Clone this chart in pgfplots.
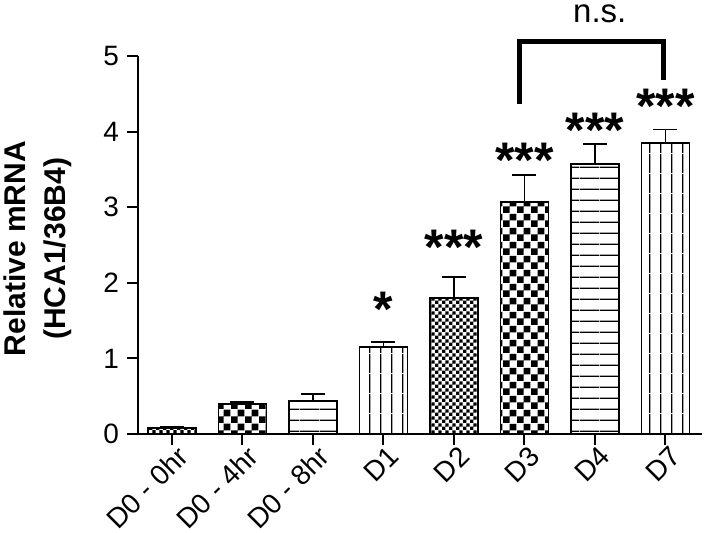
\documentclass[border=0pt]{standalone}
\usepackage{pgfplots}
\pgfplotsset{compat=1.18}
\usepackage{fontspec}
\setmainfont{Liberation Sans}
\usetikzlibrary{patterns}

\pgfdeclarepatternformonly{checkBig}{\pgfpointorigin}{\pgfpoint{6.8pt}{6.8pt}}{\pgfpoint{6.8pt}{6.8pt}}{%
  \pgfpathrectangle{\pgfpointorigin}{\pgfpoint{3.4pt}{3.4pt}}%
  \pgfpathrectangle{\pgfpoint{3.4pt}{3.4pt}}{\pgfpoint{3.4pt}{3.4pt}}%
  \pgfusepath{fill}}
\pgfdeclarepatternformonly{checkFine}{\pgfpointorigin}{\pgfpoint{3.4pt}{3.4pt}}{\pgfpoint{3.4pt}{3.4pt}}{%
  \pgfpathrectangle{\pgfpointorigin}{\pgfpoint{1.7pt}{1.7pt}}%
  \pgfpathrectangle{\pgfpoint{1.7pt}{1.7pt}}{\pgfpoint{1.7pt}{1.7pt}}%
  \pgfusepath{fill}}
\pgfdeclarepatternformonly{hlinesW}{\pgfpointorigin}{\pgfpoint{10pt}{5.6pt}}{\pgfpoint{10pt}{5.6pt}}{%
  \pgfpathrectangle{\pgfpointorigin}{\pgfpoint{10pt}{0.75pt}}%
  \pgfusepath{fill}}
\pgfdeclarepatternformonly{vlinesW}{\pgfpointorigin}{\pgfpoint{5.6pt}{10pt}}{\pgfpoint{5.6pt}{10pt}}{%
  \pgfpathrectangle{\pgfpointorigin}{\pgfpoint{0.75pt}{10pt}}%
  \pgfusepath{fill}}

\begin{document}
\begin{tikzpicture}
\path[use as bounding box] (-69pt,-49pt) rectangle (283.5pt,217pt);
\begin{axis}[
  at={(0,0)}, anchor=south west,
  scale only axis,
  width=282pt, height=189pt,
  xmin=-0.48, xmax=7.52,
  ymin=0, ymax=5,
  ytick={0,1,2,3,4,5},
  xtick={0,1,2,3,4,5,6,7},
  xticklabels={D0 - 0hr, D0 - 4hr, D0 - 8hr, D1, D2, D3, D4, D7},
  axis x line*=bottom,
  axis y line*=left,
  axis line style={line width=1pt, black},
  tick style={line width=1pt, black},
  tick align=outside,
  major tick length=5.5pt,
  clip=false,
  /pgf/number format/assume math mode=true,
  yticklabel style={font=\fontsize{14}{16}\selectfont, xshift=-0.5pt},
  xticklabel style={font=\fontsize{14}{16}\selectfont, rotate=45, anchor=north east, inner sep=1pt, xshift=2.5pt},
  every axis plot/.append style={ybar, bar width=24pt, bar shift=0pt, draw=black, line width=0.8pt,
    error bars/y dir=plus, error bars/y explicit,
    error bars/error bar style={line width=0.8pt, black},
    error bars/error mark options={rotate=90, mark size=6pt, line width=0.8pt, black}},
]
\addplot[pattern=checkFine] coordinates {(0,0.08) +- (0,0.01)};
\addplot[pattern=checkBig] coordinates {(1,0.40) +- (0,0.02)};
\addplot[pattern=hlinesW] coordinates {(2,0.44) +- (0,0.09)};
\addplot[pattern=vlinesW] coordinates {(3,1.15) +- (0,0.07)};
\addplot[pattern=checkFine] coordinates {(4,1.80) +- (0,0.28)};
\addplot[pattern=checkBig] coordinates {(5,3.07) +- (0,0.36)};
\addplot[pattern=hlinesW] coordinates {(6,3.57) +- (0,0.27)};
\addplot[pattern=vlinesW] coordinates {(7,3.85) +- (0,0.18)};

\node[rotate=90, align=center, font=\fontsize{15}{20}\selectfont\bfseries]
  at (axis description cs:-0.178,0.49) {Relative mRNA\\(HCA1/36B4)};

\begin{scope}[every node/.style={font=\fontsize{25}{25}\selectfont\bfseries, anchor=base, inner sep=0pt, yshift=-14.7pt}]
\node at (axis cs:3,1.81) {*};
\node at (axis cs:4,2.63) {***};
\node at (axis cs:5,3.78) {***};
\node at (axis cs:6,4.18) {***};
\node at (axis cs:7,4.49) {***};
\end{scope}

\draw[line width=2.5pt, line join=miter] (axis cs:4.93,4.37) -- (axis cs:4.93,5.19) -- (axis cs:6.98,5.19) -- (axis cs:6.98,4.68);
\node[font=\fontsize{16.5}{18}\selectfont, anchor=base, inner sep=0pt] at (axis cs:6.07,5.44) {n.s.};
\end{axis}
\end{tikzpicture}
\end{document}
